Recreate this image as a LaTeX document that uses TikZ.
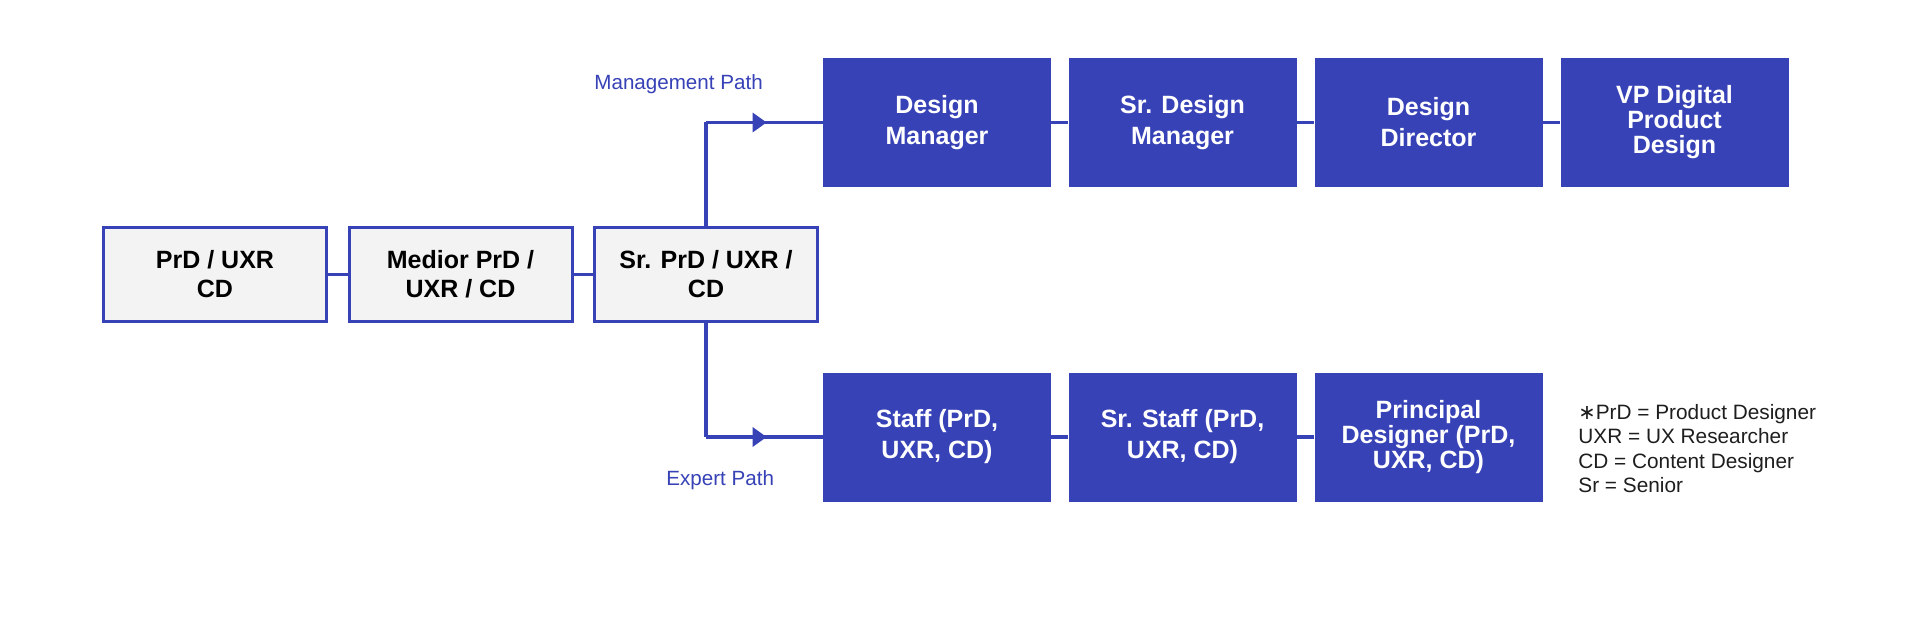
\documentclass[tikz,border=0pt]{standalone}
\usepackage{fontspec}
\setmainfont{Liberation Sans}
\newfontfamily\symfont{DejaVu Sans}
\usetikzlibrary{arrows.meta,decorations.markings}
\definecolor{brand}{HTML}{3742B7}
\definecolor{lightbox}{HTML}{F3F3F3}
\definecolor{legendtext}{HTML}{1E1E1E}
\begin{document}
\begin{tikzpicture}[x=0.5pt,y=-0.5pt,
  bluebox/.style={rectangle, fill=brand, draw=none, minimum width=114pt, minimum height=64.5pt,
    inner sep=0pt, align=center, text=white, font=\bfseries\fontsize{12.5}{15.5}\selectfont},
  bluebox3/.style={bluebox, font=\bfseries\fontsize{12.5}{12.5}\selectfont},
  graybox/.style={rectangle, fill=lightbox, draw=brand, line width=1.5pt, minimum width=111.5pt,
    minimum height=47pt, inner sep=0pt, align=center, text=black, font=\bfseries\fontsize{12.5}{14.5}\selectfont},
  link/.style={draw=brand, line width=1.6pt},
  arrowlink/.style={link, postaction={decorate}, decoration={markings,
    mark=at position 0.52 with {\arrow{Triangle[length=7pt,width=9.5pt]}}}},
  pathlabel/.style={text=brand, font=\fontsize{10.3}{12}\selectfont, inner sep=0pt, anchor=base west},
  legendline/.style={text=legendtext, font=\fontsize{10.4}{12}\selectfont, inner sep=0pt, anchor=base west},
]
\useasboundingbox (0,0) rectangle (1920,641);
\fill[white] (0,0) rectangle (1920,641);

% left row
\node[graybox] (b1) at (215,274.5) {PrD / UXR\\CD};
\node[graybox] (b2) at (460.5,274.5) {Medior PrD /\\UXR / CD};
\node[graybox] (b3) at (706,274.5) {Sr. PrD / UXR /\\CD};

% management row
\node[bluebox] (m1) at (937,122.5) {Design\\Manager};
\node[bluebox] (m2) at (1182.5,122.5) {Sr. Design\\Manager};
\node[bluebox] (m3) at (1428.5,122.5) {Design\\Director};
\node[bluebox3] (m4) at (1674.5,122.5) {VP Digital\\Product\\Design};

% expert row
\node[bluebox] (e1) at (937,437) {Staff (PrD,\\UXR, CD)};
\node[bluebox] (e2) at (1182.5,437) {Sr. Staff (PrD,\\UXR, CD)};
\node[bluebox3] (e3) at (1428.5,437) {Principal\\Designer (PrD,\\UXR, CD)};

% connectors
\draw[link] (b1.east) -- (b2.west);
\draw[link] (b2.east) -- (b3.west);
\draw[link] (m1.east) -- (m2.west);
\draw[link] (m2.east) -- (m3.west);
\draw[link] (m3.east) -- (m4.west);
\draw[link] (e1.east) -- (e2.west);
\draw[link] (e2.east) -- (e3.west);

\coordinate (mc) at (b3.north |- m1.west);
\coordinate (ec) at (b3.south |- e1.west);
\draw[link] (b3.north) -- (mc);
\draw[arrowlink] (mc) -- (m1.west);
\draw[link] (b3.south) -- (ec);
\draw[arrowlink] (ec) -- (e1.west);

% path labels
\node[pathlabel] (ml) at (594,90) {Management Path};
\node[pathlabel] (el) at (666,485) {Expert Path};

% legend
\node[legendline] (l1) at (1578,419) {{\symfont ∗}PrD = Product Designer};
\node[legendline] (l2) at (1578,443.5) {UXR = UX Researcher};
\node[legendline] (l3) at (1578,468) {CD = Content Designer};
\node[legendline] (l4) at (1578,492.5) {Sr = Senior};
\end{tikzpicture}
\end{document}
